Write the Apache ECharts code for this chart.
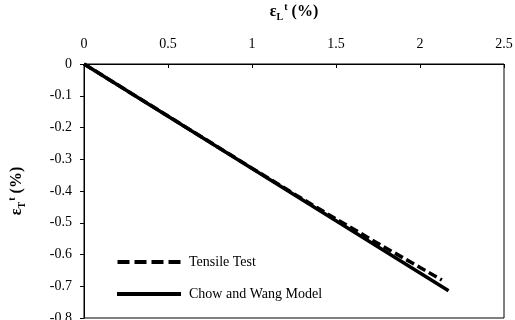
<!DOCTYPE html>
<html><head><meta charset="utf-8">
<script src="https://cdn.jsdelivr.net/npm/echarts@6/dist/echarts.min.js"></script>
<style>html,body{margin:0;padding:0;background:#fff}#c{width:515px;height:320px}</style>
</head><body><div id="c"></div>
<script>
const seriesNames = ['Tensile Test', 'Chow and Wang Model'];
const tensileX = [0, 0.25, 0.5, 0.75, 1.0, 1.25, 1.5, 1.75, 2.0, 2.13];
const tensileY = [0, -0.082, -0.164, -0.246, -0.328, -0.409, -0.488, -0.565, -0.641, -0.68];
const chowX = [0, 0.5, 1.0, 1.5, 2.0, 2.17];
const chowY = [0, -0.1645, -0.329, -0.4935, -0.658, -0.714];
const xTicks = [0, 0.5, 1, 1.5, 2, 2.5];
const yTicks = [0, -0.1, -0.2, -0.3, -0.4, -0.5, -0.6, -0.7, -0.8];

const FONT = 'Liberation Serif';
const zip = (a, b) => a.map((v, i) => [v, b[i]]);
const nameRich = {
  b: {fontFamily: FONT, fontWeight: 'bold', fontSize: 16, lineHeight: 20, color: '#000'},
  sub: {fontFamily: FONT, fontWeight: 'bold', fontSize: 10, lineHeight: 20, verticalAlign: 'bottom', color: '#000'},
  sup: {fontFamily: FONT, fontWeight: 'bold', fontSize: 10, lineHeight: 16, verticalAlign: 'top', color: '#000', padding: [0, 0, 0, 1]}
};
const dashIcon = 'path://M0,0h12v4h-12z M17,0h12v4h-12z M34,0h12v4h-12z M51,0h12v4h-12z';
const chart = echarts.init(document.getElementById('c'), null, {renderer: 'canvas'});
chart.setOption({
  animation: false,
  backgroundColor: '#fff',
  grid: {left: 84, right: 11, top: 64, bottom: 2, outerBoundsMode: 'none', containLabel: false,
         show: true, borderColor: '#000', borderWidth: 1, backgroundColor: 'transparent'},
  legend: {
    orient: 'vertical', left: 117, top: 255, padding: 0, itemWidth: 64, itemHeight: 4, itemGap: 18,
    data: [{name: seriesNames[0], icon: dashIcon}, {name: seriesNames[1], icon: 'rect'}],
    itemStyle: {color: '#000', borderWidth: 0},
    lineStyle: {opacity: 0},
    textStyle: {fontFamily: FONT, fontSize: 14, color: '#000', padding: [0, 0, 0, 3]}
  },
  xAxis: {
    type: 'value', position: 'top', min: xTicks[0], max: xTicks[xTicks.length - 1], interval: 0.5,
    name: '{b|ε}{sub|L}{sup|t}{b| (%)}', nameLocation: 'middle', nameGap: 42,
    nameTextStyle: {rich: nameRich},
    axisLine: {show: true, lineStyle: {color: '#000', width: 1}},
    axisTick: {show: true, inside: true, length: 4, lineStyle: {color: '#000'}},
    axisLabel: {fontFamily: FONT, fontSize: 14, color: '#000', margin: 13},
    splitLine: {show: false}
  },
  yAxis: {
    type: 'value', min: yTicks[yTicks.length - 1], max: yTicks[0], interval: 0.1,
    name: '{b|ε}{sub|T}{sup|t}{b| (%)}', nameLocation: 'middle', nameGap: 57, nameRotate: 90,
    nameTextStyle: {rich: nameRich},
    axisLine: {show: true, lineStyle: {color: '#000', width: 1}},
    axisTick: {show: true, inside: false, length: 4, lineStyle: {color: '#000'}},
    axisLabel: {fontFamily: FONT, fontSize: 14, color: '#000', margin: 12,
      formatter: v => (Math.round(v * 10) / 10).toString()},
    splitLine: {show: false}
  },
  series: [
    {name: seriesNames[0], type: 'line', data: zip(tensileX, tensileY), symbol: 'none', z: 3,
     lineStyle: {color: '#000', width: 3.5, type: [9, 4]}, itemStyle: {color: '#000'}},
    {name: seriesNames[1], type: 'line', data: zip(chowX, chowY), symbol: 'none', z: 2,
     lineStyle: {color: '#000', width: 3.5, type: 'solid'}, itemStyle: {color: '#000'}}
  ]
});
</script></body></html>
